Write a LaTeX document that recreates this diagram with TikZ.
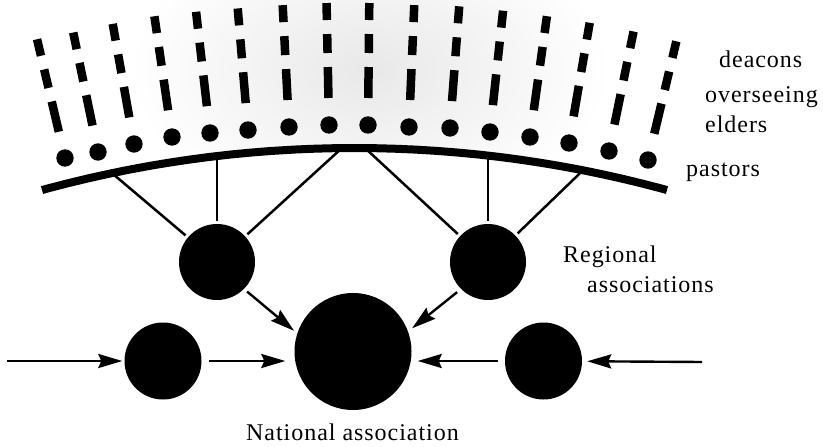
\documentclass[tikz,border=0pt]{standalone}
\usepackage{fontspec}
\usetikzlibrary{arrows.meta}
\newfontfamily\labfont[LetterSpace=4]{Liberation Serif}
\begin{document}
\begin{tikzpicture}[x=1pt,y=-1pt,
  assoc/.style={circle,fill=black,draw=none,inner sep=0pt},
  link/.style={line width=2.5pt,shorten >=3pt},
  arr/.style={line width=2.4pt,-{Stealth[length=24pt,width=14pt,inset=3pt]}},
  lab/.style={font=\labfont\fontsize{24}{28}\selectfont,inner sep=0pt,anchor=base west},
  bar/.style={line width=8.5pt,line cap=butt}]
\useasboundingbox (0,0) rectangle (823,447);
% light halftone-like background above the arc
\begin{scope}
  \clip plot[domain=-15.31:15.31,samples=60] ({354.5+1183.6*sin(\x)},{1331.6-1183.6*cos(\x)}) -- (667,0) -- (42,0) -- cycle;
  \shade[inner color=black!9,outer color=white] (370,70) ellipse (240 and 150);
\end{scope}
% dots (pastors) and dashes (elders, overseeing, deacons)
\foreach \px/\py in {65/158,98/152,134/144,172/137,210/133,248/130,289/127,329/125,368/125,409/127,450/128,490/132,530/137,569/143,609/151,648/160}{
  \pgfmathsetmacro\myang{atan2(\px-354.5,1388.7-\py)}
  \pgfmathsetmacro\dsin{sin(\myang)}
  \pgfmathsetmacro\dcos{cos(\myang)}
  \fill (\px,\py) circle (8.7);
  \draw[bar] ({\px+27*\dsin},{\py-27*\dcos}) -- ({\px+58*\dsin},{\py-58*\dcos});
  \draw[bar] ({\px+72*\dsin},{\py-72*\dcos}) -- ({\px+91*\dsin},{\py-91*\dcos});
  \draw[bar] ({\px+105*\dsin},{\py-105*\dcos}) -- ({\px+122*\dsin},{\py-122*\dcos});
}
% association nodes
\node[assoc,minimum size=76pt] (lr) at (217,262) {};
\node[assoc,minimum size=76pt] (rr) at (488,262) {};
\node[assoc,minimum size=77pt] (ls) at (163,361) {};
\node[assoc,minimum size=77pt] (rs) at (543.5,361) {};
\node[assoc,minimum size=117pt] (nat) at (353,351.5) {};
% points on the arc
\coordinate (a1) at (113,174);
\coordinate (a2) at (217,156);
\coordinate (a3) at (342,148);
\coordinate (a4) at (365,148);
\coordinate (a5) at (488,155.5);
\coordinate (a6) at (583,170.3);
\draw[link] (a1) -- (lr);
\draw[link] (a2) -- (lr);
\draw[link] (a3) -- (lr);
\draw[link] (a4) -- (rr);
\draw[link] (a5) -- (rr);
\draw[link] (a6) -- (rr);
% the arc
\draw[line width=8pt,line cap=butt] plot[domain=-15.31:15.31,samples=80] ({354.5+1183.6*sin(\x)},{1331.6-1183.6*cos(\x)});
% arrows
\coordinate (lin) at (7,361);
\coordinate (rin) at (702,362);
\draw[arr,shorten >=2pt] (lin) -- (ls);
\draw[arr,shorten <=7pt,shorten >=9pt] (ls) -- (ls -| nat.west);
\draw[arr,shorten <=7pt,shorten >=6pt] (rs) -- (rs -| nat.east);
\draw[arr,shorten >=5pt] (rin) -- (rs);
\draw[arr,shorten <=4pt,shorten >=4pt] (lr.-45) -- (nat.162);
\draw[arr,shorten <=5pt,shorten >=5pt] (rr.-135) -- (nat.20);
% labels
\node[lab] (tdeac) at (719,67) {deacons};
\node[lab] (tover) at (705,102) {overseeing};
\node[lab] (telder) at (705,132) {elders};
\node[lab] (tpast) at (686,176) {pastors};
\node[lab] (treg) at (563,262) {Regional};
\node[lab] (tassoc) at (587,292) {associations};
\node[lab,anchor=base] (tnat) at (352.5,440) {National association};
\end{tikzpicture}
\end{document}
